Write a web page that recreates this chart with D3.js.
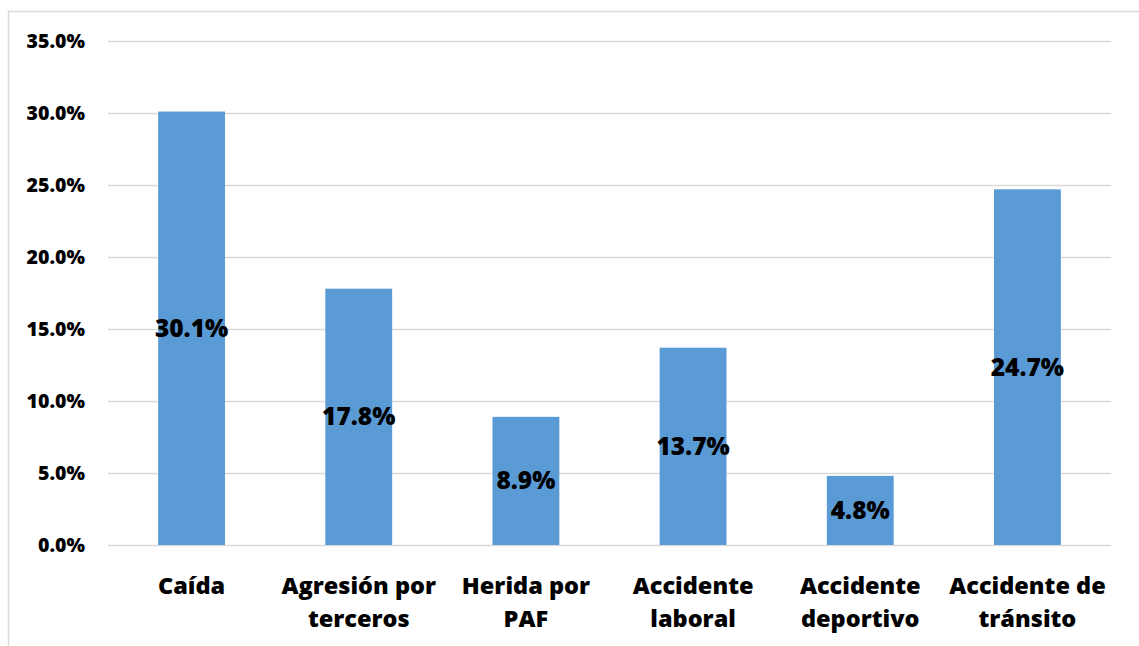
<!DOCTYPE html>
<html>
<head>
<meta charset="utf-8">
<script src="https://cdn.jsdelivr.net/npm/d3@7"></script>
<style>
  body { margin: 0; background: #fff; }
  text { font-family: "Open Sans", Lato, sans-serif; font-weight: 800; fill: #000; }
</style>
</head>
<body>
<svg id="chart" width="1139" height="646"></svg>
<script>
const categories = [
  ['Caída'],
  ['Agresión por', 'terceros'],
  ['Herida por', 'PAF'],
  ['Accidente', 'laboral'],
  ['Accidente', 'deportivo'],
  ['Accidente de', 'tránsito'],
];
const values = [30.1, 17.8, 8.9, 13.7, 4.8, 24.7];
const yTicks = [0, 5, 10, 15, 20, 25, 30, 35];

const margin = { top: 41, right: 28, bottom: 101, left: 108 };
const width = 1139 - margin.left - margin.right;
const height = 646 - margin.top - margin.bottom;

const svgRoot = d3.select('#chart');

// outer chart border (only left and top visible in frame)
svgRoot.append('rect')
  .attr('x', 8.5).attr('y', 11.5)
  .attr('width', 1200).attr('height', 700)
  .attr('fill', 'none')
  .attr('stroke', '#d9d9d9')
  .attr('stroke-width', 1.5);

const svg = svgRoot.append('g')
  .attr('transform', `translate(${margin.left},${margin.top})`);

const keys = categories.map(c => c.join(' '));

const xScale = d3.scaleBand()
  .domain(keys)
  .range([0, width])
  .paddingInner(0.6)
  .paddingOuter(0.3);

const yScale = d3.scaleLinear()
  .domain([0, 35])
  .range([height, 0]);

// gridlines + y labels
const yAxis = svg.append('g')
  .attr('class', 'y axis')
  .call(d3.axisLeft(yScale).tickValues(yTicks).tickSize(-width)
    .tickFormat(d => d.toFixed(1) + '%').tickPadding(23));
yAxis.select('.domain').remove();
yAxis.selectAll('line').attr('stroke', '#d9d9d9').attr('stroke-width', 1.5);
yAxis.selectAll('text').style('font-size', '19.5px').attr('dy', '0.35em');

svg.selectAll('rect.bar')
  .data(values)
  .enter().append('rect')
  .attr('class', 'bar')
  .attr('x', (d, i) => xScale(keys[i]))
  .attr('width', xScale.bandwidth())
  .attr('y', d => yScale(d))
  .attr('height', d => height - yScale(d))
  .attr('fill', '#5b9bd5');

svg.selectAll('text.val')
  .data(values)
  .enter().append('text')
  .attr('class', 'val')
  .attr('x', (d, i) => xScale(keys[i]) + xScale.bandwidth() / 2)
  .attr('y', d => (yScale(d) + height) / 2)
  .attr('dy', '0.35em')
  .attr('text-anchor', 'middle')
  .style('font-size', '24.5px')
  .text(d => d.toFixed(1) + '%');

// x labels
const xl = svg.selectAll('text.xlab')
  .data(categories)
  .enter().append('text')
  .attr('class', 'xlab')
  .attr('text-anchor', 'middle')
  .attr('transform', (d, i) => `translate(${xScale(keys[i]) + xScale.bandwidth() / 2},${height + 49})`)
  .style('font-size', '23.5px');
xl.selectAll('tspan')
  .data(d => d)
  .enter().append('tspan')
  .attr('x', 0)
  .attr('dy', (d, i) => i === 0 ? 0 : 33)
  .text(d => d);
</script>
</body>
</html>
